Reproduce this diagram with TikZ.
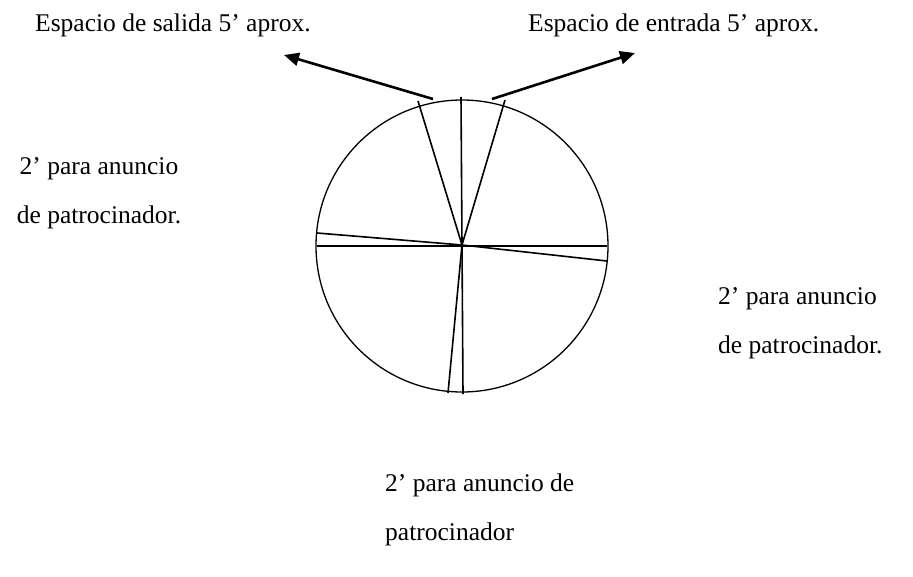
\documentclass[tikz,border=0pt]{standalone}
\usepackage{fontspec}
\setmainfont{Liberation Serif}
\usetikzlibrary{arrows.meta}

\begin{document}
\begin{tikzpicture}[x=1pt,y=-1pt,
	caption/.style={font=\fontsize{25.5}{49}\selectfont, inner sep=0pt},
	spoke/.style={line width=1.6pt},
	pointer/.style={line width=2.6pt, -{Triangle[length=15pt,width=13pt]}}]
	\useasboundingbox (0,0) rectangle (913,576);
	\node[draw, circle, line width=1.3pt, minimum size=292pt, inner sep=0pt] (dial) at (462,246) {};
	\coordinate (hub) at (462,245);

	% ends of the spokes
	\coordinate (top) at (461,97);
	\coordinate (topleft) at (418,101);
	\coordinate (topright) at (505,100);
	\coordinate (left) at (317,233);
	\coordinate (west) at (317,246);
	\coordinate (east) at (607,246);
	\coordinate (right) at (607,261);
	\coordinate (downleft) at (448,393);
	\coordinate (down) at (463,394);

	\draw[spoke] (hub) -- (top);
	\draw[spoke] (hub) -- (topleft);
	\draw[spoke] (hub) -- (topright);
	\draw[spoke] (hub) -- (left);
	\draw[spoke, line width=1.2pt] (west) -- (east);
	\draw[spoke] (hub) -- (right);
	\draw[spoke] (hub) -- (downleft);
	\draw[spoke] (hub) -- (down);

	\node[caption, anchor=base west] (salida) at (35,31) {Espacio de salida 5’ aprox.};
	\node[caption, anchor=base west] (entrada) at (528,31) {Espacio de entrada 5’ aprox.};
	\coordinate (tailleft) at (433,99);
	\coordinate (tailright) at (492,99);
	\coordinate (tipleft) at (284,55);
	\coordinate (tipright) at (635,53);
	\draw[pointer] (tailleft) -- (tipleft);
	\draw[pointer] (tailright) -- (tipright);

	\node[caption, align=center] (sponsorleft) at (99,193) {2’ para anuncio\\de patrocinador.};
	\node[caption, align=left, anchor=west] (sponsorright) at (718,323) {2’ para anuncio\\de patrocinador.};
	\node[caption, align=left, anchor=west] (sponsordown) at (385,510) {2’ para anuncio de\\patrocinador};
\end{tikzpicture}
\end{document}
